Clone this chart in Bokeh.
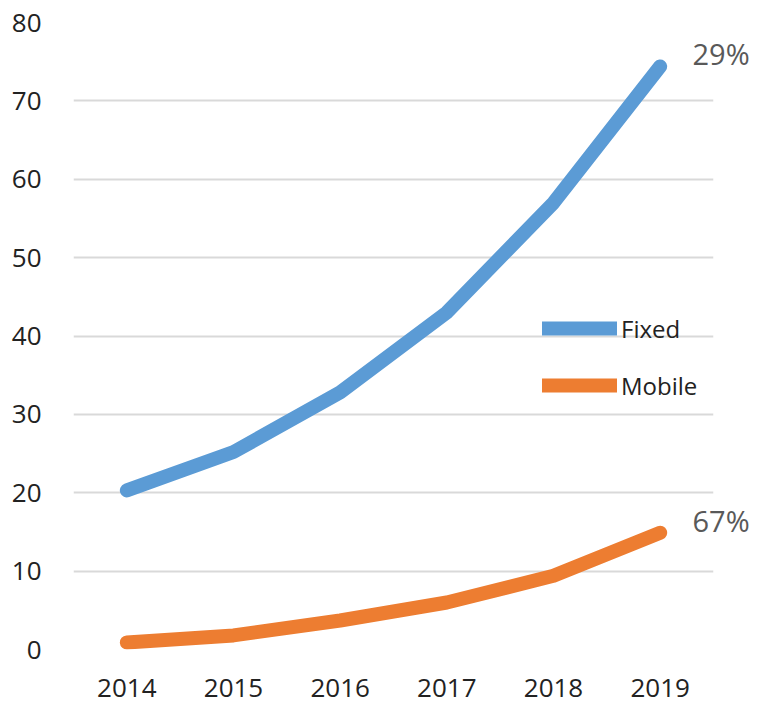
from bokeh.plotting import figure
from bokeh.models import FactorRange, Range1d, Legend, LegendItem, FixedTicker, ColumnDataSource, LinearAxis
from bokeh.embed import file_html
from bokeh.resources import INLINE

years = ["2014", "2015", "2016", "2017", "2018", "2019"]
fixed = [20.3, 25.2, 32.8, 43.0, 57.0, 74.4]
mobile = [0.9, 1.8, 3.7, 6.0, 9.4, 14.9]
series_names = ["Fixed", "Mobile"]
end_labels = ["29%", "67%"]
y_ticks = [0, 10, 20, 30, 40, 50, 60, 70, 80]

FONT = "Open Sans"

p = figure(width=759, height=706, x_range=FactorRange(*years, range_padding=0),
           y_range=Range1d(0, 80), output_backend="svg", toolbar_location=None,
           min_border_left=73, min_border_right=46, min_border_top=22, min_border_bottom=57)
p.outline_line_color = None
p.background_fill_color = "white"
p.border_fill_color = "white"

src = ColumnDataSource(dict(year=years, fixed=fixed, mobile=mobile))
r1 = p.line("year", "fixed", source=src, line_color="#5B9BD5", line_width=14, line_cap="round", line_join="round")
r2 = p.line("year", "mobile", source=src, line_color="#ED7D31", line_width=14, line_cap="round", line_join="round")

p.xgrid.grid_line_color = None
p.ygrid.grid_line_color = "#d9d9d9"
p.ygrid.grid_line_width = 2
p.yaxis.ticker = FixedTicker(ticks=y_ticks)

for ax in (p.xaxis[0], p.yaxis[0]):
    ax.axis_line_color = None
    ax.major_tick_line_color = None
    ax.minor_tick_line_color = None
    ax.major_label_text_font = FONT
    ax.major_label_text_color = "#222222"
    ax.major_label_text_font_size = "26px"
p.yaxis.major_label_standoff = 26
p.xaxis.major_label_standoff = 23

# end-of-line growth labels, placed through a right-hand axis at the last values;
# its range is shifted slightly so the labels sit just above the line ends
p.extra_y_ranges = {"labels": Range1d(-1.6, 78.4)}
ends = [fixed[-1], mobile[-1]]
rax = LinearAxis(y_range_name="labels", ticker=FixedTicker(ticks=ends),
                 major_label_overrides={v: t for v, t in zip(ends, end_labels)})
rax.axis_line_color = None
rax.major_tick_line_color = None
rax.minor_tick_line_color = None
rax.major_label_standoff = -27
rax.major_label_text_font = FONT
rax.major_label_text_font_size = "29px"
rax.major_label_text_color = "#595959"
p.add_layout(rax, "right")

legend = Legend(items=[LegendItem(label=series_names[0], renderers=[r1]),
                       LegendItem(label=series_names[1], renderers=[r2])],
                location=(469, 247), orientation="vertical")
legend.border_line_color = None
legend.background_fill_alpha = 0
legend.padding = 0
legend.margin = 0
legend.spacing = 23
legend.glyph_width = 75
legend.glyph_height = 34
legend.label_height = 34
legend.label_standoff = 4
legend.label_text_font = FONT
legend.label_text_font_size = "24px"
legend.label_text_color = "#222222"
p.add_layout(legend)

open("out.html", "w").write(file_html(p, INLINE))
